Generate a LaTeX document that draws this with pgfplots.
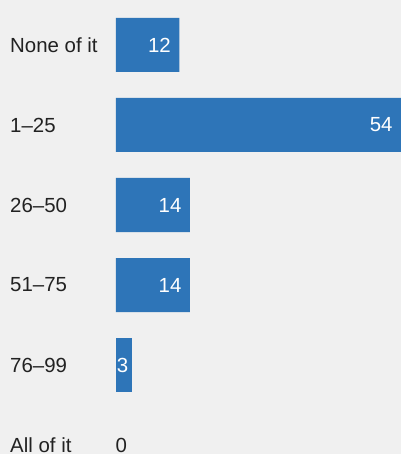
\documentclass[border=0pt]{standalone}
\usepackage{pgfplots}
\pgfplotsset{compat=1.18}
\usepackage{fontspec}
\setmainfont{Liberation Sans}
\definecolor{barblue}{HTML}{2E75B8}
\definecolor{bggray}{HTML}{F0F0F0}
\definecolor{txt}{HTML}{222222}
\begin{document}
\begin{tikzpicture}
\fill[bggray] (-116bp,0) rectangle (285bp,454bp);
\path[use as bounding box] (-116bp,0) rectangle (285bp,454bp);
\begin{axis}[at={(0,0)}, anchor=south west, scale only axis,
    width={285bp}, height={454bp},
    xbar, bar width={54bp}, bar shift={0pt},
    xmin={0}, xmax={54},
    ymin={-0.5625}, ymax={5.1125}, y dir=reverse,
    axis line style={draw=none}, major tick length={0pt},
    xtick=\empty,
    ytick={0,1,2,3,4,5},
    yticklabels={None of it,1--25,26--50,51--75,76--99,All of it},
    yticklabel style={anchor=west, xshift={-106bp}, inner sep=0pt, text=txt,
        font=\fontsize{20.5}{24}\selectfont},
    /pgf/number format/assume math mode=true,
    every node near coord/.append style={font=\fontsize{20.5}{24}\selectfont},
    clip=false]
    \addplot[fill=barblue, draw=none, nodes near coords,
        nodes near coords style={anchor=east, xshift={-5bp}, text=white}]
        coordinates {(12,0) (54,1) (14,2) (14,3)};
    \addplot[fill=barblue, draw=none, nodes near coords,
        nodes near coords style={anchor=east, xshift={0bp}, text=white}]
        coordinates {(3,4)};
    \addplot[fill=none, draw=none, nodes near coords,
        nodes near coords style={anchor=west, xshift={-0.5bp}, inner xsep=0pt, text=txt}]
        coordinates {(0,5)};
\end{axis}
\end{tikzpicture}
\end{document}
